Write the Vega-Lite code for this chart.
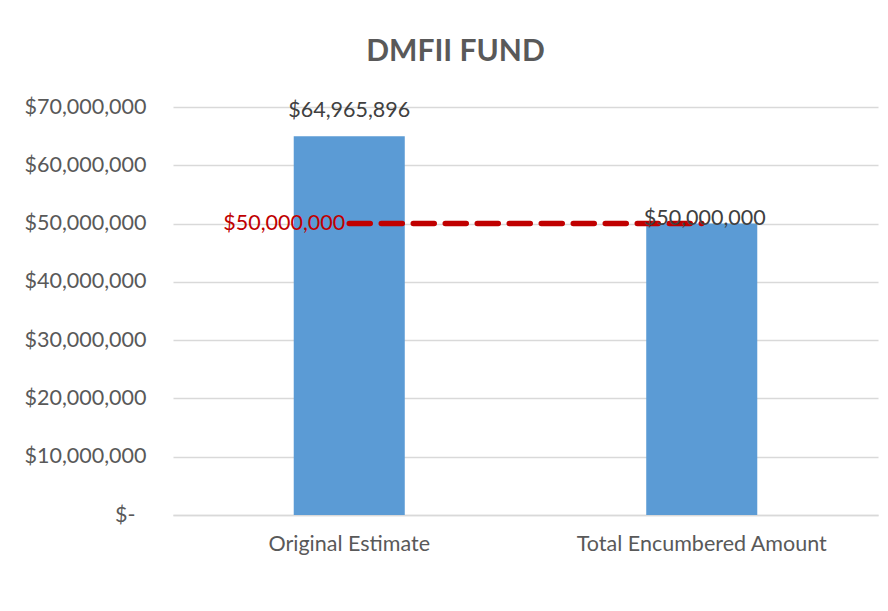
{
  "$schema": "https://vega.github.io/schema/vega-lite/v6.json",
  "autosize": {"type": "none"},
  "width": 705,
  "height": 408,
  "padding": {"left": 173, "top": 107, "right": 10, "bottom": 96},
  "background": "white",
  "config": {"view": {"stroke": null}, "font": "Lato"},
  "title": {"text": "DMFII FUND", "font": "Lato", "fontSize": 30, "fontWeight": "bold", "color": "#595959", "anchor": "middle", "frame": "group", "dx": -70, "offset": 29},
  "data": {"values": [
    {"category": "Original Estimate", "amount": 64965896, "target": 50000000},
    {"category": "Total Encumbered Amount", "amount": 50000000, "target": 50000000}
  ]},
  "encoding": {
    "x": {"field": "category", "type": "nominal", "sort": null,
      "scale": {"paddingInner": 0, "paddingOuter": 0},
      "axis": {"title": null, "labelAngle": 0, "labelLimit": 400, "ticks": false, "domainColor": "#D9D9D9", "domainWidth": 1.5, "labelFontSize": 21.5, "labelColor": "#595959", "labelPadding": 18, "labelFont": "Lato"}}
  },
  "layer": [
    {
      "mark": {"type": "bar", "color": "#5B9BD5", "width": {"band": 0.315}},
      "encoding": {"y": {"field": "amount", "type": "quantitative", "scale": {"domain": [0, 70000000]},
        "axis": {"title": null, "values": [0, 10000000, 20000000, 30000000, 40000000, 50000000, 60000000, 70000000],
          "labelExpr": "datum.value === 0 ? '$-' : '$' + format(datum.value, ',')",
          "domain": false, "ticks": false, "gridColor": "#D9D9D9", "gridWidth": 1.5, "labelFontSize": 21.5, "labelColor": "#595959",
          "labelPadding": {"condition": {"test": "datum.value === 0", "value": 38}, "value": 27}, "labelFont": "Lato"}}}
    },
    {
      "mark": {"type": "line", "color": "#C00000", "strokeWidth": 5.5, "strokeDash": [21, 11], "strokeCap": "round"},
      "encoding": {"y": {"field": "target", "type": "quantitative"}}
    },
    {
      "transform": [{"filter": "datum.category === 'Original Estimate'"}],
      "mark": {"type": "text", "dy": -25, "fontSize": 21.5, "color": "#404040", "font": "Lato"},
      "encoding": {"y": {"field": "amount", "type": "quantitative"}, "text": {"field": "amount", "format": "$,"}}
    },
    {
      "transform": [{"filter": "datum.category === 'Total Encumbered Amount'"}],
      "mark": {"type": "text", "dy": -5, "dx": 3, "fontSize": 21.5, "color": "#404040", "font": "Lato"},
      "encoding": {"y": {"field": "amount", "type": "quantitative"}, "text": {"field": "amount", "format": "$,"}}
    },
    {
      "transform": [{"filter": "datum.category === 'Original Estimate'"}],
      "mark": {"type": "text", "align": "right", "dx": -4, "fontSize": 21.5, "color": "#C00000", "font": "Lato"},
      "encoding": {"y": {"field": "target", "type": "quantitative"}, "text": {"field": "target", "format": "$,"}}
    }
  ]
}
